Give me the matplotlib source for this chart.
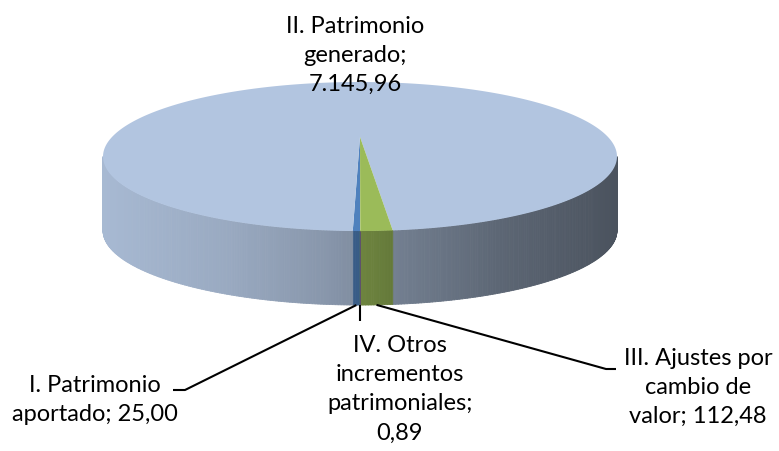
import numpy as np
import matplotlib.pyplot as plt
from matplotlib.patches import Polygon
from matplotlib.collections import PolyCollection

plt.rcParams['font.family'] = ['Lato', 'DejaVu Sans']

names = ["I. Patrimonio\naportado", "II. Patrimonio\ngenerado",
         "III. Ajustes por\ncambio de\nvalor", "IV. Otros\nincrementos\npatrimoniales"]
values = [25.00, 7145.96, 112.48, 0.89]
value_breaks = ["; ", ";\n", "; ", ";\n"]
face_colors = ["#4f81bd", "#b2c5e0", "#9bbb59", "#8064a2"]

# label placement: (centre x, top y) in pixels, plus leader elbow points
label_pos = [(95, 375), (355, 16), (698, 348), (400, 335)]
leader_ends = [[(185, 391), (173, 391)], None, [(606, 370), (616, 370)], [(None, 322)]]

# pie geometry (pixels) with a simple perspective squeeze
CX, CY = 360.0, 138.0
RX, RY = 248.0, 69.4
K = 0.262
DEPTH = 74.0
START = -90.0


def es_number(v):
    s = f"{v:,.2f}"
    return s.replace(",", "X").replace(".", ",").replace("X", ".")


def rim(theta, drop=0.0):
    t = np.radians(theta)
    w = 1 + K * np.sin(t)
    return CX + RX * np.cos(t) / w, CY - RY * np.sin(t) / w + drop


def shade(x):
    return np.interp(x, [103, 230, 330, 400, 500, 617],
                     [0.94, 0.86, 0.76, 0.64, 0.52, 0.42])


fig = plt.figure(figsize=(7.79, 4.52), dpi=100)
ax = fig.add_axes([0, 0, 1, 1])
ax.set_xlim(0, 779)
ax.set_ylim(452, 0)
ax.axis('off')

total = sum(values)
edges = START - 360.0 * np.concatenate([[0], np.cumsum(values)]) / total

# front half of the wall that is visible
vis_lo = -180.0 + np.degrees(np.arcsin(K))
vis_hi = -np.degrees(np.arcsin(K))

for i, col in enumerate(face_colors):
    a_hi, a_lo = edges[i], edges[i + 1]
    base = np.array(plt.matplotlib.colors.to_rgb(col))
    quads, cols = [], []
    for k in range(-2, 2):
        lo = max(a_lo, vis_lo + 360 * k)
        hi = min(a_hi, vis_hi + 360 * k)
        if hi <= lo:
            continue
        n = max(2, int(np.ceil((hi - lo) / 0.5)) + 1)
        angs = np.linspace(lo, hi, n) - 360 * k
        for a0, a1 in zip(angs[:-1], angs[1:]):
            x0, y0 = rim(a0)
            x1, y1 = rim(a1)
            quads.append([(x0, y0), (x1, y1), (x1, y1 + DEPTH), (x0, y0 + DEPTH)])
            cols.append(np.clip(base * shade((x0 + x1) / 2), 0, 1))
    if quads:
        ax.add_collection(PolyCollection(quads, facecolors=cols, edgecolors=cols,
                                         linewidths=0.6))

# top face wedges
for i, col in enumerate(face_colors):
    a_hi, a_lo = edges[i], edges[i + 1]
    n = max(2, int(np.ceil((a_hi - a_lo) / 0.5)) + 1)
    xs, ys = rim(np.linspace(a_lo, a_hi, n))
    pts = np.column_stack([np.r_[CX, xs], np.r_[CY, ys]])
    ax.add_patch(Polygon(pts, closed=True, facecolor=col, edgecolor='none'))

# labels and leader lines
for i in range(len(values)):
    txt = names[i] + value_breaks[i] + es_number(values[i])
    lx, ly = label_pos[i]
    ax.text(lx, ly, txt, ha='center', va='top', multialignment='center',
            fontsize=17, linespacing=1.48, color='black')
    if leader_ends[i] is None:
        continue
    mid = (edges[i] + edges[i + 1]) / 2
    sx, sy = rim(mid, DEPTH)
    px, py = [sx], [sy]
    for ex, ey in leader_ends[i]:
        px.append(sx if ex is None else ex)
        py.append(ey)
    ax.plot(px, py, color='black', lw=1.5, solid_capstyle='butt')

fig.savefig('out.png', dpi=100, facecolor='white')
